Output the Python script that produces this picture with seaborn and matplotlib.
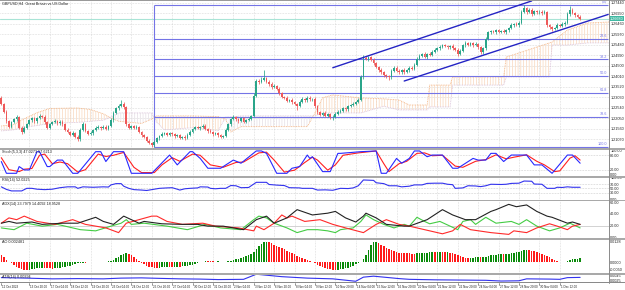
import numpy as np
import matplotlib
matplotlib.use("Agg")
import matplotlib.pyplot as plt
import seaborn as sns
from matplotlib.patches import Rectangle
from matplotlib.lines import Line2D

sns.set_style("white")
plt.rcParams['font.family'] = ['Liberation Sans', 'DejaVu Sans']
plt.rcParams['hatch.linewidth'] = 0.45

# ---------------- data (prices in pips above 1.0000, e.g. 2733 -> 1.2733) ----------------
first_open = 2298
close_pips = [
    2270, 2235, 2190, 2165, 2185, 2200, 2208, 2160, 2138, 2160,
    2178, 2195, 2203, 2190, 2205, 2215, 2212, 2185, 2160, 2178,
    2185, 2192, 2180, 2188, 2175, 2150, 2140, 2128, 2135, 2118,
    2105, 2150, 2178, 2145, 2130, 2135, 2150, 2160, 2165, 2158,
    2165, 2155, 2168, 2195, 2230, 2250, 2262, 2270, 2255, 2175,
    2160, 2168, 2160, 2165, 2140, 2125, 2118, 2100, 2090, 2080,
    2095, 2110, 2120, 2130, 2135, 2128, 2135, 2130, 2120, 2125,
    2112, 2118, 2110, 2128, 2140, 2155, 2162, 2158, 2165, 2170,
    2155, 2145, 2140, 2130, 2135, 2125, 2118, 2122, 2150, 2175,
    2200, 2210, 2200, 2190, 2205, 2188, 2195, 2200, 2215, 2310,
    2378, 2372, 2385, 2390, 2375, 2365, 2350, 2355, 2340, 2320,
    2305, 2300, 2285, 2290, 2278, 2270, 2262, 2280, 2295, 2288,
    2300, 2292, 2295, 2260, 2232, 2220, 2230, 2215, 2222, 2210,
    2212, 2225, 2235, 2240, 2250, 2245, 2262, 2268, 2272, 2280,
    2290, 2395, 2485, 2480, 2488, 2478, 2460, 2445, 2430, 2418,
    2405, 2400, 2395, 2425, 2440, 2425, 2418, 2430, 2420, 2428,
    2440, 2435, 2455, 2480, 2495, 2505, 2490, 2505, 2500, 2515,
    2525, 2532, 2538, 2545, 2540, 2535, 2542, 2530, 2525, 2505,
    2520, 2545, 2555, 2548, 2555, 2545, 2550, 2535, 2512, 2530,
    2575, 2605, 2610, 2605, 2615, 2608, 2612, 2605, 2615, 2625,
    2640, 2645, 2638, 2650, 2700, 2718, 2700, 2710, 2690, 2705,
    2698, 2702, 2695, 2700, 2640, 2628, 2620, 2625, 2640, 2635,
    2645, 2650, 2690, 2712, 2695, 2685, 2678, 2668]
wick_up = [
    12, 6, 8, 5, 7, 6, 9, 5, 6, 8, 5, 7, 6, 8, 6, 9, 5, 6, 7, 5,
    6, 8, 5, 7, 6, 5, 7, 6, 8, 5, 6, 7, 9, 5, 6, 8, 5, 7, 6, 5,
    7, 6, 5, 8, 9, 7, 10, 19, 8, 6, 7, 5, 6, 8, 5, 6, 7, 5, 6, 5,
    6, 7, 5, 8, 6, 7, 5, 6, 7, 5, 6, 5, 7, 6, 8, 5, 7, 6, 5, 8,
    6, 5, 7, 6, 5, 6, 7, 5, 8, 6, 7, 8, 5, 6, 7, 5, 6, 8, 6, 12,
    9, 10, 12, 38, 8, 6, 9, 7, 6, 8, 7, 5, 8, 6, 7, 5, 6, 8, 7, 5,
    6, 8, 5, 7, 6, 8, 5, 7, 6, 5, 6, 7, 8, 5, 6, 7, 6, 5, 8, 6,
    7, 10, 15, 9, 8, 7, 6, 8, 5, 7, 6, 8, 5, 9, 7, 6, 8, 5, 7, 6,
    8, 6, 7, 9, 8, 6, 7, 5, 8, 6, 7, 5, 6, 8, 7, 6, 5, 8, 6, 7,
    6, 8, 9, 7, 6, 5, 8, 6, 7, 5, 8, 7, 6, 8, 5, 7, 6, 8, 6, 7,
    8, 6, 7, 9, 10, 15, 8, 7, 9, 6, 7, 8, 6, 9, 7, 6, 8, 5, 7, 6,
    8, 7, 9, 16, 7, 6, 5, 6]
wick_dn = [
    5, 7, 9, 6, 8, 5, 7, 6, 8, 5, 6, 5, 7, 6, 8, 5, 6, 7, 6, 5,
    7, 5, 6, 8, 5, 7, 6, 8, 5, 6, 9, 6, 5, 7, 6, 5, 8, 6, 5, 7,
    6, 7, 5, 6, 8, 5, 7, 6, 9, 8, 6, 7, 5, 8, 6, 7, 6, 8, 7, 10,
    8, 6, 7, 5, 6, 8, 5, 7, 6, 5, 7, 6, 8, 5, 6, 7, 5, 6, 7, 5,
    6, 8, 5, 7, 6, 8, 6, 4, 6, 5, 5, 6, 8, 7, 5, 6, 7, 5, 6, 5,
    6, 8, 5, 7, 6, 8, 7, 5, 6, 7, 6, 8, 7, 5, 9, 6, 19, 7, 5, 6,
    8, 6, 5, 7, 8, 6, 7, 5, 6, 8, 14, 6, 5, 7, 6, 5, 8, 6, 5, 7,
    6, 5, 7, 6, 8, 5, 7, 6, 8, 7, 6, 8, 12, 6, 7, 5, 8, 6, 7, 5,
    6, 7, 5, 8, 6, 7, 5, 8, 6, 7, 5, 6, 8, 7, 5, 6, 8, 6, 7, 9,
    7, 5, 6, 8, 6, 7, 5, 8, 9, 6, 5, 7, 6, 5, 8, 6, 7, 5, 6, 7,
    6, 8, 5, 7, 6, 5, 8, 6, 7, 6, 5, 7, 8, 6, 9, 8, 7, 6, 5, 7,
    6, 8, 5, 7, 6, 8, 5, 6]

price_ticks = [2107, 2156, 2205, 2254, 2303, 2352, 2401, 2450, 2499, 2548, 2597, 2646, 2695, 2744]

fib_high, fib_low = 2733, 2070
fib_ratios = [0.0, 0.236, 0.382, 0.5, 0.618, 0.786, 1.0]
fib_labels = ["0.0", "23.6", "38.2", "50.0", "61.8", "78.6", "100.0"]
fib_bar = 60

chan_up_bars, chan_up_vals = [130, 208], [2440, 2752]
chan_lo_bars, chan_lo_vals = [158, 238], [2378, 2689]

cloud_bars = [0, 5, 8, 14, 19, 30, 35, 40, 43, 46, 55, 58, 59, 61, 64, 75, 85, 88, 90, 94,
              120, 123, 126, 130, 141, 150, 156, 160, 167, 168, 176, 177, 197, 198, 215, 216,
              222, 230, 239]
span_a = [2168, 2175, 2196, 2230, 2250, 2252, 2245, 2225, 2205, 2190, 2180, 2195, 2200, 2215,
          2215, 2215, 2212, 2200, 2140, 2165, 2165, 2229, 2300, 2313, 2299, 2295, 2289, 2266,
          2266, 2359, 2359, 2397, 2397, 2490, 2556, 2560, 2616, 2649, 2654]
span_b = [2145, 2150, 2160, 2170, 2180, 2185, 2190, 2195, 2210, 2229, 2229, 2229, 2229, 2185,
          2150, 2160, 2145, 2210, 2210, 2215, 2215, 2215, 2229, 2229, 2229, 2260, 2243, 2243,
          2243, 2257, 2257, 2359, 2359, 2397, 2397, 2546, 2546, 2556, 2556]

stoch_main_bars = [0, 2, 6, 7, 9, 11, 14, 15, 18, 19, 22, 24, 28, 30, 37, 39, 41, 44, 48, 51, 59,
                   66, 69, 74, 75, 78, 81, 86, 91, 94, 100, 102, 104, 108, 112, 114, 117, 120,
                   121, 122, 126, 129, 132, 133, 141, 147, 149, 151, 155, 157, 160, 162, 164,
                   167, 169, 173, 177, 179, 185, 187, 190, 192, 194, 197, 200, 206, 209, 212,
                   216, 222, 224, 227]
stoch_main_vals = [54, 5, 5, 33, 19, 19, 95, 95, 33, 33, 60, 60, 5, 5, 95, 95, 54, 95, 95, 5, 5,
                   81, 40, 95, 95, 67, 26, 26, 60, 47, 98, 98, 88, 5, 5, 26, 33, 81,
                   67, 74, 12, 12, 88, 88, 95, 98, 5, 5, 67, 47, 67, 98, 98,
                   74, 81, 81, 26, 26, 67, 60, 60, 88, 88, 54, 81, 81, 40, 40,
                   5, 81, 81, 47]
stoch_sig_bars = [0, 3, 7, 9, 12, 15, 17, 20, 23, 26, 30, 33, 38, 41, 44, 48, 52, 55, 60, 63, 67,
                  70, 75, 78, 82, 87, 92, 95, 101, 104, 107, 111, 115, 119, 122, 124, 128, 131,
                  134, 140, 147, 150, 152, 156, 159, 163, 166, 169, 173, 178, 181, 186, 190,
                  194, 198, 201, 206, 210, 213, 217, 219, 223, 225, 227]
stoch_sig_vals = [70, 20, 12, 22, 25, 80, 85, 45, 52, 45, 10, 20, 85, 75, 80, 92, 30, 8, 8, 40, 70,
                  55, 85, 80, 40, 30, 50, 52, 90, 93, 60, 10, 18, 50, 72, 60, 18, 40,
                  80, 90, 98, 45, 12, 45, 55, 88, 90, 78, 80, 35, 30, 55, 62,
                  82, 65, 72, 82, 55, 40, 12, 15, 68, 78, 60]

rsi_bars = [0, 2, 4, 8, 10, 12, 14, 17, 20, 23, 26, 29, 30, 32, 36, 40, 42, 43, 45, 47, 48, 50,
            52, 55, 57, 60, 62, 65, 67, 69, 70, 72, 74, 77, 78, 81, 82, 84, 86, 88, 90, 92, 94,
            97, 98, 100, 104, 105, 108, 111, 113, 117, 118, 122, 124, 127, 130, 133, 136, 138,
            140, 142, 146, 147, 150, 152, 155, 157, 160, 162, 165, 167, 170, 173, 175, 177, 178,
            181, 183, 186, 188, 190, 192, 196, 198, 200, 203, 205, 208, 209, 212, 214, 217, 218,
            220, 222, 224, 227]
rsi_vals = [57, 45, 38, 38, 50, 50, 46, 44, 46, 53, 57, 57, 50, 57, 55, 57, 56, 66, 72, 72, 60, 50,
            44, 42, 40, 46, 50, 52, 53, 46, 42, 48, 50, 52, 57, 56, 50, 48, 50, 50, 63, 62, 53,
            54, 62, 78, 78, 68, 65, 63, 53, 52, 50, 50, 42, 43, 41, 50, 49, 52,
            62, 89, 87, 76, 72, 62, 62, 57, 60, 66, 66, 73, 74, 74, 69, 67, 50,
            52, 62, 61, 58, 62, 69, 68, 69, 73, 74, 84, 83, 70, 69, 50, 50, 55,
            54, 57, 55, 55]

adx_bars = [0, 3, 6, 12, 16, 24, 30, 37, 40, 44, 48, 54, 56, 63, 71, 77, 81, 87, 95, 100, 104, 107,
            112, 116, 122, 128, 131, 135, 139, 142, 143, 147, 151, 158, 160, 167, 173, 177, 182,
            186, 192, 194, 199, 202, 206, 210, 214, 216, 222, 224, 227]
adx_vals = [24, 27, 24, 26, 22, 24, 24, 34, 27, 22, 36, 24, 27, 23, 22, 22, 19, 19, 13, 30, 36, 24,
            33, 47, 38, 41, 44, 33, 26, 36, 41, 33, 22, 19, 19, 30, 47, 38, 30,
            30, 44, 47, 56, 52, 55, 44, 36, 34, 24, 26, 22]
pdi_bars = [0, 5, 10, 16, 22, 28, 31, 37, 43, 47, 49, 51, 56, 65, 73, 80, 86, 94, 99, 101, 104,
            107, 112, 116, 120, 124, 128, 131, 133, 138, 141, 143, 146, 150, 154, 158, 160, 163,
            166, 168, 172, 176, 179, 181, 184, 186, 190, 194, 200, 203, 206, 210, 215, 219, 223,
            227]
pdi_vals = [16, 13, 24, 19, 22, 16, 13, 11, 19, 24, 30, 22, 24, 19, 13, 22, 16, 13, 30, 36, 33,
            24, 16, 8, 13, 13, 11, 8, 13, 16, 27, 38, 30, 22, 16, 22, 19, 34,
            27, 23, 27, 19, 13, 27, 30, 22, 34, 24, 27, 22, 30, 19, 11, 16, 24,
            16]
mdi_bars = [0, 3, 6, 9, 14, 21, 28, 33, 41, 46, 49, 54, 59, 61, 65, 71, 79, 84, 93, 99, 100, 103,
            107, 110, 112, 114, 119, 125, 130, 135, 142, 147, 151, 156, 160, 168, 173, 177, 180,
            184, 192, 199, 201, 206, 210, 215, 218, 222, 224, 227]
mdi_vals = [24, 33, 30, 36, 27, 22, 30, 22, 16, 8, 24, 30, 36, 36, 27, 22, 24, 19, 16, 11, 19, 13,
            24, 38, 33, 36, 27, 30, 22, 16, 8, 22, 30, 22, 19, 11, 6, 11, 22,
            13, 8, 5, 11, 8, 16, 23, 19, 13, 19, 22]

ao_pips = [
    44, 30, 13, 2, -8, -18, -29, -38, -45, -50,
    -52, -50, -46, -42, -40, -38, -36, -37, -39, -40,
    -41, -40, -38, -35, -33, -30, -26, -22, -18, -13,
    -8, -5, -3, -4, -2, -1, 1, 2, 1, 2,
    3, 2, 4, 8, 15, 24, 34, 45, 52, 55,
    50, 42, 30, 18, 6, -5, -14, -22, -29, -33,
    -36, -37, -36, -34, -33, -31, -32, -33, -31, -29,
    -30, -28, -26, -23, -20, -16, -10, -6, -2, 3,
    7, 6, 5, 4, 3, 4, 3, 2, 3, 5,
    8, 12, 16, 20, 25, 30, 36, 42, 50, 65,
    85, 102, 116, 125, 128, 124, 118, 110, 102, 95,
    88, 80, 72, 64, 56, 48, 40, 33, 26, 19,
    12, 6, 0, -8, -16, -24, -31, -37, -42, -46,
    -49, -50, -49, -47, -44, -40, -35, -29, -22, -15,
    -8, 2, 20, 45, 75, 105, 125, 128, 120, 110,
    98, 88, 80, 74, 68, 64, 60, 58, 56, 55,
    54, 53, 52, 54, 57, 58, 59, 60, 61, 62,
    61, 62, 63, 62, 61, 62, 60, 58, 52, 45,
    38, 30, 25, 23, 25, 27, 29, 31, 30, 32,
    34, 38, 42, 44, 46, 48, 50, 49, 51, 53,
    55, 58, 61, 64, 69, 74, 76, 75, 72, 68,
    64, 58, 52, 46, 38, 30, 22, 14, 6, 2,
    1, 3, 7, 12, 16, 19, 21, 23]

atr_bars = [0, 10, 20, 30, 40, 47, 55, 62, 70, 78, 85, 95, 100, 104, 110, 120, 130, 139, 142, 146,
            150, 156, 160, 170, 180, 190, 196, 203, 206, 215, 219, 222, 227]
atr_pips = [38, 36, 33, 34, 33, 36, 37, 35, 33, 32, 30, 31, 52, 48, 42, 36, 33, 23, 40, 44,
            40, 34, 31, 29, 28, 27, 24, 25, 33, 32, 31, 38, 39]

date_label_bars = [0, 11, 19, 27, 35, 43, 51, 59, 67, 75, 83, 91, 99, 107, 115, 123, 131, 139,
                   147, 155, 163, 171, 179, 187, 195, 203, 211, 219]
date_labels = ["12 Oct 2023", "13 Oct 20:00", "17 Oct 04:00", "18 Oct 12:00", "19 Oct 20:00",
               "23 Oct 04:00", "24 Oct 12:00", "25 Oct 20:00", "27 Oct 04:00", "30 Oct 12:00",
               "31 Oct 20:00", "2 Nov 04:00", "3 Nov 12:00", "6 Nov 20:00", "8 Nov 04:00",
               "9 Nov 12:00", "10 Nov 20:00", "14 Nov 04:00", "15 Nov 12:00", "16 Nov 20:00",
               "20 Nov 04:00", "21 Nov 12:00", "22 Nov 20:00", "24 Nov 04:00", "27 Nov 12:00",
               "28 Nov 20:00", "30 Nov 04:00", "1 Dec 12:00"]

title_text = "GBPUSD,H4  Great Britain vs US Dollar"
stoch_title = "Stoch(5,3,3) 47.0273 57.6213"
rsi_title = "RSI(14) 52.0225"
adx_title = "ADX(14) 23.7979 14.4092 18.9528"
ao_title = "AO 0.002481"
atr_title = "ATR(14) 0.00394"

# ---------------- layout ----------------
W, H = 625, 290
CHART_R = 608.5
X0, DX = 1.3, 2.55
XMIN, XMAX = -X0 / DX, (CHART_R - X0) / DX
FS = 2.7
FS_DATE = 2.2
GRID = '#c9c9c9'
SEP = '#a9a9a9'
GREEN, RED = '#2aa58a', '#ee5a5a'
FIB = '#7474e6'
CHAN = '#2424c4'

fig = plt.figure(figsize=(W / 100, H / 100), dpi=100)
fig.patch.set_facecolor('white')


def panel(top, bottom):
    ax = fig.add_axes([0, 1 - bottom / H, CHART_R / W, (bottom - top) / H])
    ax.set_xlim(XMIN, XMAX)
    ax.set_facecolor('none')
    for s in ax.spines.values():
        s.set_visible(False)
    ax.tick_params(axis='x', bottom=False, labelbottom=False)
    ax.yaxis.tick_right()
    ax.tick_params(axis='y', length=0, pad=1.2, labelsize=FS, colors='#222222')
    for b in date_label_bars[1:]:
        ax.axvline(b, color=GRID, lw=0.45, ls=(0, (1, 1.5)), zorder=0)
    return ax


def header(ax, txt):
    ax.text(0.004, 0.985, txt, transform=ax.transAxes, ha='left', va='top',
            fontsize=FS, color='#202020')


# ---------- main price panel ----------
ax = panel(1, 148)
ax.set_ylim(2065.2, 2751.7)
for p in price_ticks:
    ax.axhline(p, color=GRID, lw=0.45, ls=(0, (1, 1.5)), zorder=0)
ax.set_yticks(price_ticks)
ax.set_yticklabels([f"{1 + p / 1e4:.5f}" for p in price_ticks])

# Ichimoku cloud
cb = np.array(cloud_bars)
sa = np.array(span_a)
sb = np.array(span_b)
ax.fill_between(cb, sa, sb, where=sa >= sb, interpolate=True, facecolor='none',
                edgecolor='#f8d2b4', hatch='||||||', linewidth=0, zorder=1)
ax.fill_between(cb, sa, sb, where=sa < sb, interpolate=True, facecolor='none',
                edgecolor='#e2dae2', hatch='||||||', linewidth=0, zorder=1)
ax.plot(cb, sa, color='#f4b07c', lw=0.6, ls=(0, (1, 1)), zorder=1)
ax.plot(cb, sb, color='#d8bfd8', lw=0.6, ls=(0, (1, 1)), zorder=1)

# fibonacci
for r, lab in zip(fib_ratios, fib_labels):
    lvl = fib_high - r * (fib_high - fib_low)
    ax.hlines(lvl, fib_bar, XMAX, color=FIB, lw=0.8, zorder=2)
    ax.text(XMAX - 0.4, lvl + 3, lab, ha='right', va='bottom', fontsize=FS, color=FIB)
ax.vlines(fib_bar, fib_low, fib_high, color=FIB, lw=0.8, zorder=2)

# current price line
last = close_pips[-1]
ax.axhline(last, color='#a9e4d6', lw=0.8, zorder=1)

# candles
closes = np.array(close_pips, dtype=float)
opens = np.concatenate([[first_open], closes[:-1]])
highs = np.maximum(opens, closes) + np.array(wick_up)
lows = np.minimum(opens, closes) - np.array(wick_dn)
bars = np.arange(len(closes))
cols = np.where(closes >= opens, GREEN, RED)
ax.vlines(bars, lows, highs, colors=cols, lw=0.55, zorder=3)
ax.bar(bars, np.maximum(np.abs(closes - opens), 1.2), bottom=np.minimum(opens, closes),
       width=0.7, color=cols, linewidth=0, zorder=4)

# channel
ax.plot(chan_up_bars, chan_up_vals, color=CHAN, lw=1.0, zorder=5)
ax.plot(chan_lo_bars, chan_lo_vals, color=CHAN, lw=1.0, zorder=5)

ax.text(0.003, 0.997, title_text, transform=ax.transAxes, ha='left', va='top',
        fontsize=FS, color='#202020')
ypx = 1 + (2751.7 - last) / (2751.7 - 2065.2) * 147
fig.text(609.8 / W, 1 - ypx / H, f"{1 + last / 1e4:.5f}", fontsize=FS, color='white',
         ha='left', va='center',
         bbox=dict(facecolor='#3fb9a2', edgecolor='none', pad=0.4))

# ---------- stochastic ----------
ax = panel(150, 176)
ax.set_ylim(-6.25, 102)
for lv in (20, 80):
    ax.axhline(lv, color='#b5b5b5', lw=0.45, ls=(0, (1, 1.5)))
sns.lineplot(x=stoch_sig_bars, y=stoch_sig_vals, ax=ax, color='#ff2020', lw=0.8, estimator=None)
sns.lineplot(x=stoch_main_bars, y=stoch_main_vals, ax=ax, color='#2828ff', lw=0.8, estimator=None)
ax.set_xlim(XMIN, XMAX)
ax.set_yticks([100, 80, 20, 0])
ax.set_yticklabels(["100.00", "80.00", "20.00", "0.00"])
ax.set_xlabel(''); ax.set_ylabel('')
header(ax, stoch_title)

# ---------- RSI ----------
ax = panel(177.5, 199.5)
ax.set_ylim(-2, 100.5)
for lv in (30, 50, 70):
    ax.axhline(lv, color='#b5b5b5', lw=0.45, ls=(0, (1, 1.5)))
sns.lineplot(x=rsi_bars, y=rsi_vals, ax=ax, color='#3232ee', lw=0.8, estimator=None)
ax.set_xlim(XMIN, XMAX)
ax.set_yticks([100, 70, 50, 30, 0])
ax.set_yticklabels(["100.00", "70.00", "50.00", "30.00", "0.00"])
ax.set_xlabel(''); ax.set_ylabel('')
header(ax, rsi_title)

# ---------- ADX ----------
ax = panel(201, 237.5)
ax.set_ylim(-0.3, 61.7)
ax.axhline(20, color='#c0c0c0', lw=0.5)
sns.lineplot(x=pdi_bars, y=pdi_vals, ax=ax, color='#44cc44', lw=0.8, estimator=None)
sns.lineplot(x=mdi_bars, y=mdi_vals, ax=ax, color='#ff2a2a', lw=0.8, estimator=None)
sns.lineplot(x=adx_bars, y=adx_vals, ax=ax, color='#222222', lw=0.8, estimator=None)
ax.set_xlim(XMIN, XMAX)
ax.set_yticks([60, 40, 20, 0])
ax.set_yticklabels(["60.00", "40.00", "20.00", "0.00"])
ax.set_xlabel(''); ax.set_ylabel('')
header(ax, adx_title)

# ---------- AO ----------
ax = panel(239.5, 272.5)
ax.set_ylim(-66, 142)
ao = np.array(ao_pips, dtype=float)
ao_prev = np.concatenate([[ao[0] + 1], ao[:-1]])
ao_cols = np.where(ao > ao_prev, '#0a8a0a', '#ff1a1a')
ax.bar(np.arange(len(ao)), ao, width=0.6, color=ao_cols, linewidth=0)
ax.set_yticks([128, 0, -50])
ax.set_yticklabels(["0.0128", "0.0000", "-0.0050"])
header(ax, ao_title)

# ---------- ATR ----------
ax = panel(274.5, 282)
ax.set_ylim(20, 50.9)
sns.lineplot(x=atr_bars, y=atr_pips, ax=ax, color='#3232ee', lw=0.8, estimator=None)
ax.set_xlim(XMIN, XMAX)
ax.set_yticks([45, 25])
ax.set_yticklabels(["0.0045", "0.0025"])
ax.set_xlabel(''); ax.set_ylabel('')
header(ax, atr_title)

# ---------- separators, borders ----------
def hband(top, bottom, color=SEP):
    fig.add_artist(Rectangle((0, 1 - bottom / H), 1, (bottom - top) / H,
                             transform=fig.transFigure, color=color, lw=0, zorder=10))

hband(0, 0.8, '#9a9a9a')
for t, b in [(148, 150), (176, 177.5), (199.5, 201), (237.5, 239.5), (272.5, 274.5)]:
    hband(t, b)
hband(282, 282.7, '#8a8a8a')
fig.add_artist(Line2D([CHART_R / W, CHART_R / W], [1 - 282.5 / H, 1], transform=fig.transFigure,
                      color='#8a8a8a', lw=0.7, zorder=11))

# ---------- date axis ----------
for b, lab in zip(date_label_bars, date_labels):
    xpx = X0 + DX * b
    fig.add_artist(Line2D([xpx / W, xpx / W], [1 - 285 / H, 1 - 282.5 / H],
                          transform=fig.transFigure, color='#666666', lw=0.5))
    fig.text((xpx + 1.0) / W, 1 - 286.5 / H, lab, fontsize=FS_DATE, color='#222222',
             ha='left', va='center')

fig.savefig("out.png", dpi=100, facecolor='white')
